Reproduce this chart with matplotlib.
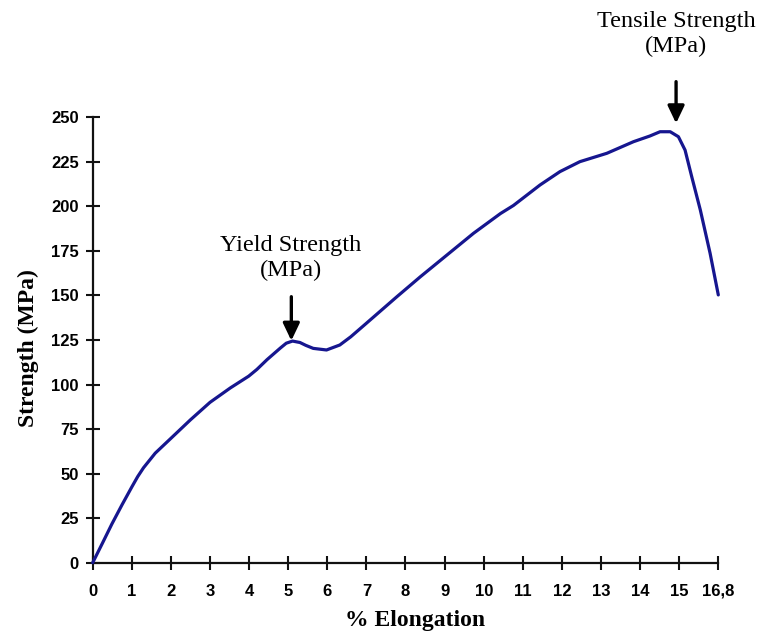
import matplotlib
matplotlib.use("Agg")
import matplotlib.pyplot as plt

# Curva tensão x deformação (lida ponto a ponto)
elongation = [0, 0.25, 0.49, 0.75, 1.0, 1.15, 1.3, 1.6, 2.0, 2.5, 3.0, 3.52,
              3.99, 4.2, 4.46, 4.8, 4.95, 5.11, 5.3, 5.45, 5.64, 5.98, 6.32,
              6.6, 7.0, 7.78, 8.38, 9.06, 9.74, 10.43, 10.76, 11.44, 11.95,
              12.46, 13.15, 13.83, 14.25, 14.51, 14.77, 14.98, 15.15, 15.32,
              15.54, 15.79, 16.0]
strength = [0, 11, 21.7, 32.5, 42.5, 48.3, 53.3, 61.5, 69.8, 80.2, 90.0, 98.1,
            104.7, 108.5, 114, 120.5, 123.2, 124.4, 123.6, 122, 120.3, 119.4,
            122.2, 126.8, 134.4, 149.3, 160.5, 172.7, 184.9, 196, 200.5,
            212, 219.5, 225.1, 229.8, 236.3, 239.5, 241.9, 241.9, 239.1,
            231.6, 216.7, 198, 173.7, 150.3]

x_ticks = list(range(17))
x_tick_labels = [str(i) for i in range(16)] + ["16,8"]
y_ticks = list(range(0, 251, 25))

yield_point = (5.08, 124.6)
tensile_point = (14.92, 246.6)

serif = ["Liberation Serif", "DejaVu Serif"]
sans = ["Liberation Sans Narrow", "Liberation Sans", "DejaVu Sans"]

fig = plt.figure(figsize=(7.69, 6.39), dpi=100)
ax = fig.add_axes([92.7 / 769, 1 - 562.7 / 639, 625.6 / 769, 445.4 / 639])

ax.plot(elongation, strength, color="#16168f", lw=2.3, clip_on=False,
        solid_joinstyle="round", solid_capstyle="round", zorder=3)

ax.set_xlim(0, 16)
ax.set_ylim(0, 250)
for side in ("top", "right"):
    ax.spines[side].set_visible(False)
for side in ("left", "bottom"):
    ax.spines[side].set_linewidth(1.6)
    ax.spines[side].set_color("#111111")

ax.set_xticks(x_ticks)
ax.set_xticklabels(x_tick_labels)
ax.set_yticks(y_ticks)
ax.tick_params(axis="both", direction="inout", length=10, width=1.5,
               color="#111111")
ax.tick_params(axis="x", pad=10)
ax.tick_params(axis="y", pad=5)
for lab in ax.get_xticklabels() + ax.get_yticklabels():
    lab.set_fontfamily(sans)
    lab.set_fontweight("bold")
    lab.set_fontsize(12)

ax.set_xlabel("% Elongation", family=serif, fontweight="bold", fontsize=17)
ax.set_ylabel("Strength (MPa)", family=serif, fontweight="bold", fontsize=17)
ax.xaxis.set_label_coords(0.515, -0.107)
ax.yaxis.set_label_coords(-0.086, 0.482)

arrow = dict(arrowstyle="-|>,head_length=1.05,head_width=0.5", lw=2.4,
             color="black", shrinkA=0, shrinkB=0)
ax.annotate("", xy=yield_point, xytext=(yield_point[0], 149.3),
            arrowprops=arrow, annotation_clip=False)
ax.annotate("", xy=tensile_point, xytext=(tensile_point[0], 270),
            arrowprops=arrow, annotation_clip=False)

ax.text(5.07, 171, "Yield Strength\n(MPa)", family=serif, fontsize=17.5,
        ha="center", va="center", linespacing=1.2, clip_on=False)
ax.text(14.92, 296.8, "Tensile Strength\n(MPa)", family=serif, fontsize=17.5,
        ha="center", va="center", linespacing=1.2, clip_on=False)

fig.savefig("out.png", dpi=100)
